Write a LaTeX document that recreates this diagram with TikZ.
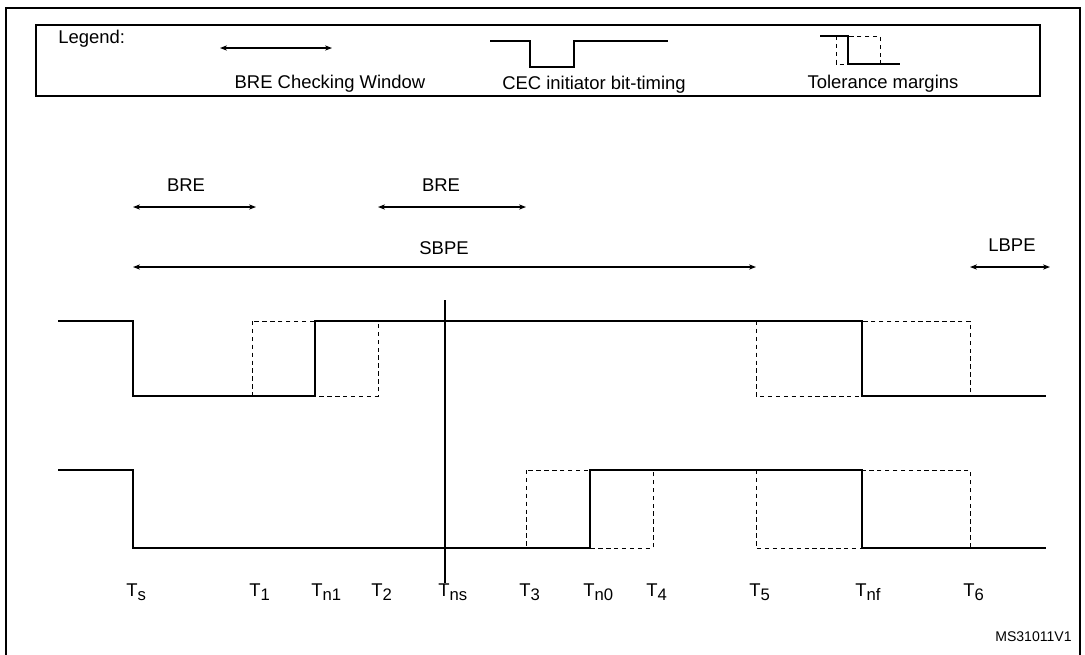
\documentclass[tikz,border=0pt]{standalone}
\usepackage{fontspec}
\setmainfont{Liberation Sans}
\usetikzlibrary{arrows.meta}
\newcommand{\Tl}[1]{T\raisebox{-0.45ex}{\fontsize{9.5}{11}\selectfont #1}}
\begin{document}
\begin{tikzpicture}[x=0.02cm,y=-0.02cm,
  txt/.style={font=\fontsize{10.5}{12}\selectfont,inner sep=0pt},
  wave/.style={line width=1.2pt},
  tol/.style={dashed,dash pattern=on 2.5pt off 2pt,line width=0.5pt},
  win/.style={<->,>={Stealth[length=4pt,width=3pt]},line width=0.6pt}]
\useasboundingbox (0,0) rectangle (1085,654);
\draw[line width=0.8pt] (6,700) -- (6,8) -- (1080,8) -- (1080,700);
% legend
\draw[line width=0.6pt] (36,25) rectangle (1040,96);
\node[txt,anchor=west] (lg) at (58,39) {Legend:};
\coordinate (la) at (220,48); \coordinate (lb) at (332,48);
\draw[win] (la) -- (lb);
\node[txt] (l1) at (330,84) {BRE Checking Window};
\draw[line width=0.6pt] (490,41) -- (530,41) -- (530,67) -- (574,67) -- (574,41) -- (668,41);
\node[txt] (l2) at (594,85) {CEC initiator bit-timing};
\draw[line width=0.6pt] (820,36) -- (848,36) -- (848,64) -- (900,64);
\draw[tol] (836,36) rectangle (880,64);
\node[txt] (l3) at (883,84) {Tolerance margins};
% windows
\draw[win] (133,207) -- (256,207); \node[txt] (b1) at (186,185) {BRE};
\draw[win] (378,207) -- (526,207); \node[txt] (b2) at (441,185) {BRE};
\draw[win] (133,267) -- (756,267); \node[txt] (sb) at (444,248) {SBPE};
\draw[win] (970,267) -- (1050,267); \node[txt] (lb2) at (1012,245) {LBPE};
% waveform 1
\draw[tol] (252,321) rectangle (378,396);
\draw[tol] (756,321) rectangle (970,396);
\draw[wave] (58,321) -- (133,321) -- (133,396) -- (315,396) -- (315,321) -- (862,321) -- (862,396) -- (1046,396);
% waveform 2
\draw[tol] (526,470) rectangle (653,548);
\draw[tol] (756,470) rectangle (970,548);
\draw[wave] (58,470) -- (133,470) -- (133,548) -- (590,548) -- (590,470) -- (862,470) -- (862,548) -- (1046,548);
\draw[line width=0.8pt] (445,300) -- (445,583);
% labels
\foreach \x/\t/\n in {133/s/a,256/1/b,318/{n1}/c,378/2/d,445/{ns}/e,526/3/f,590/{n0}/g,653/4/h,756/5/i,862/{nf}/j,970/6/k}
  \node[txt,anchor=west] (t\n) at (\x-7,592) {\Tl{\t}};
\node[txt,anchor=east] (ms) at (1072,637) {\fontsize{8}{9}\selectfont MS31011V1};
\end{tikzpicture}
\end{document}
